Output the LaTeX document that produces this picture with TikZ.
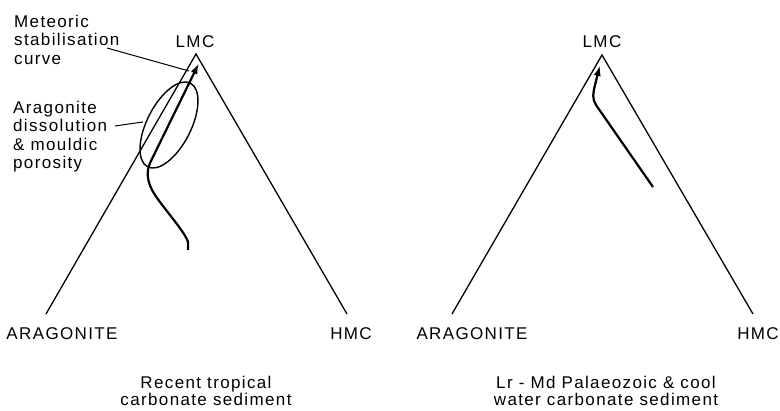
\documentclass[tikz,border=0pt]{standalone}
\usepackage{fontspec}
\setmainfont{Liberation Sans}
\newfontfamily\lbl{Liberation Sans}[LetterSpace=8]
\usetikzlibrary{arrows.meta}
\begin{document}
\begin{tikzpicture}[x=1pt,y=1pt,
  edge/.style={line width=1.3pt},
  curveline/.style={line width=2.2pt},
  leader/.style={line width=1pt},
  txt/.style={font=\lbl\fontsize{17}{18.3}\selectfont,inner sep=0pt,text=black},
  captxt/.style={font=\lbl\fontsize{17}{17}\selectfont,inner sep=0pt,align=center,anchor=north},
  tip/.style={-{Latex[length=11pt,width=7pt]}}]
\useasboundingbox (0,0) rectangle (780,411);
% left triangle
\coordinate (araL) at (46,97);
\coordinate (lmcL) at (196,357);
\coordinate (hmcL) at (347,97);
\draw[edge,line join=miter] (araL) -- (lmcL) -- (hmcL);
% right triangle
\coordinate (araR) at (452,97);
\coordinate (lmcR) at (602,356);
\coordinate (hmcR) at (753,97);
\draw[edge,line join=miter] (araR) -- (lmcR) -- (hmcR);
% labels
\node[txt] (tLMCL) at (195,369) {LMC};
\node[txt] (tARAL) at (62,77) {ARAGONITE};
\node[txt] (tHMCL) at (351,77) {HMC};
\node[txt] (tLMCR) at (602,369) {LMC};
\node[txt] (tARAR) at (472,77) {ARAGONITE};
\node[txt] (tHMCR) at (758,77) {HMC};
\node[captxt] (capL) at (206,35) {Recent tropical\\carbonate sediment};
\node[captxt] (capR) at (606,35) {Lr - Md Palaeozoic \& cool\\water carbonate sediment};
% annotations left
\node[txt,align=left,anchor=north west] (met) at (14,396) {Meteoric\\stabilisation\\curve};
\node[txt,align=left,anchor=north west] (arag) at (13,310) {Aragonite\\dissolution\\\& mouldic\\porosity};
% ellipse
\coordinate (ellC) at (169,286);
\draw[line width=1.4pt] (ellC) ellipse [x radius=47, y radius=22, rotate=63];
% stabilisation curve left
\coordinate (sL0) at (188,161);
\coordinate (sLtip) at (199,348);
\draw[curveline,tip] (sL0) -- (188,169) .. controls (185,179) and (165,201) .. (155,216)
  .. controls (147,228) and (146,239) .. (150,248) -- (sLtip);
% leaders
\coordinate (metStart) at (107,363);
\coordinate (metEnd) at (189,340);
\coordinate (aragStart) at (115,285);
\coordinate (aragEnd) at (143,289);
\draw[leader] (metStart) -- (metEnd);
\draw[leader] (aragStart) -- (aragEnd);
% right curve
\coordinate (sR0) at (653,224);
\coordinate (sRtip) at (600,346);
\draw[curveline,tip] (sR0) -- (596,306) .. controls (592,312) and (593,318) .. (595,326) -- (sRtip);
\end{tikzpicture}
\end{document}
